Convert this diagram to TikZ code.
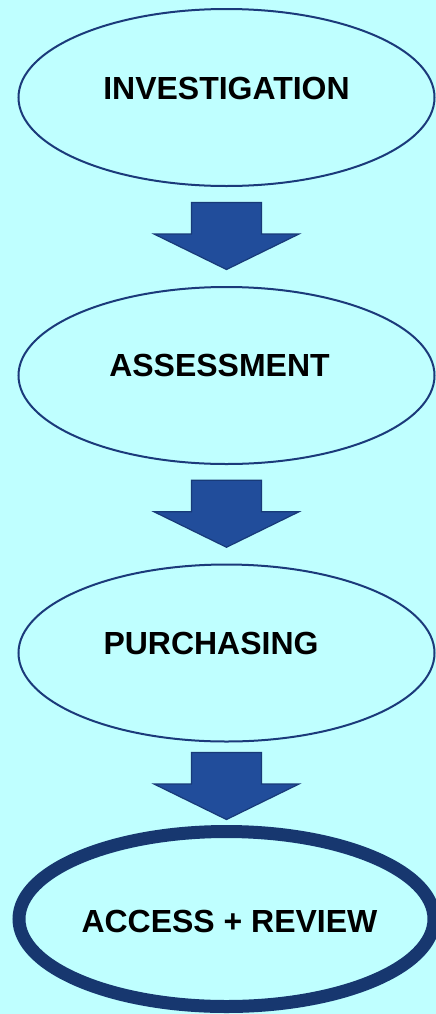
\documentclass[tikz,border=0pt]{standalone}
\usepackage{fontspec}
\setmainfont{Liberation Sans}
\usetikzlibrary{shapes.geometric,calc}
\definecolor{bgcyan}{RGB}{191,255,255}
\definecolor{rimblue}{RGB}{27,58,122}
\definecolor{arrowblue}{RGB}{33,77,155}
\definecolor{arrowrim}{RGB}{24,58,120}
\definecolor{thickrim}{RGB}{23,55,111}

\begin{document}
\begin{tikzpicture}[x=1bp,y=-1bp,
    stage/.style={ellipse, draw=rimblue, line width=2bp, fill=bgcyan,
        minimum width=416bp, minimum height=177bp, inner sep=0pt, outer sep=0pt},
    stagetext/.style={font=\fontsize{32.1}{38}\selectfont\bfseries, inner sep=0pt},
    downarrow/.style={fill=arrowblue, draw=arrowrim, line width=1.2bp, line join=miter}]

    % page and background
    \fill[bgcyan] (0,0) rectangle (436,1014);
    \useasboundingbox (0,0) rectangle (436,1014);

    % the four stages
    \node[stage] (inv) at (226.5,97.5) {};
    \node[stage] (ass) at (226.5,375.5) {};
    \node[stage] (pur) at (226.5,653) {};
    \node[stage, draw=thickrim, line width=13bp, minimum width=415bp,
        minimum height=175bp] (acc) at (226.5,919) {};

    \node[stagetext] (inv-t) at ($(inv)+(0,-9.5)$) {INVESTIGATION};
    \node[stagetext] (ass-t) at ($(ass)+(-7,-10)$) {ASSESSMENT};
    \node[stagetext] (pur-t) at ($(pur)+(-15.5,-9.5)$) {PURCHASING};
    \node[stagetext] (acc-t) at ($(acc)+(3,2)$) {ACCESS + REVIEW};

    % block arrows between stages
    \foreach \a/\b in {inv/ass, ass/pur, pur/acc}{
        \coordinate (\a-\b) at ($(\a.south)!0.5!(\b.north)$);
        \draw[downarrow] (\a-\b) ++(-35,-34) -- ++(70,0) -- ++(0,31.5)
            -- ++(37.5,0) -- ++(-72.5,35.5) -- ++(-72.5,-35.5) -- ++(37.5,0) -- cycle;
    }
\end{tikzpicture}
\end{document}
